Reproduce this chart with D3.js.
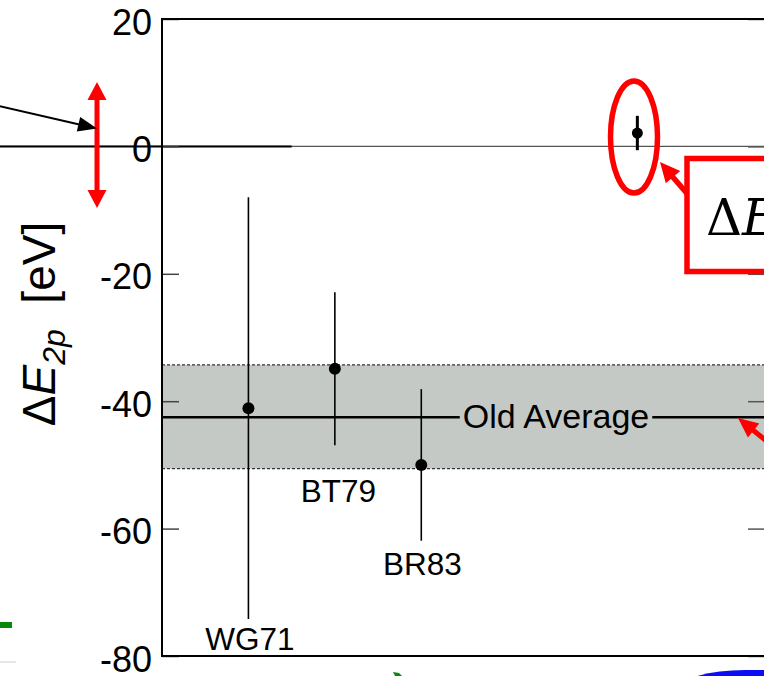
<!DOCTYPE html>
<html>
<head>
<meta charset="utf-8">
<script src="https://cdn.jsdelivr.net/npm/d3@7"></script>
<style>
  html, body { margin: 0; padding: 0; background: #fff; }
  svg { display: block; }
</style>
</head>
<body>
<svg id="chart" width="764" height="676"></svg>
<script>
// Earlier measurements of the 2p level shift, with their uncertainties
const labels    = ["WG71", "BT79", "BR83"];
const positions = [1, 2, 3];
const values    = [-41.1, -34.9, -50.0];
const errors    = [33.1, 12.0, 11.9];

// New measurement
const newPosition = [5.5];
const newValue    = [2.1];
const newError    = [2.7];

// Average of the earlier results and its band
const oldAverage = [-42.5];
const oldBand    = [-50.6, -34.3];

const yMajorTicks = [20, 0, -20, -40, -60, -80];
const yMinorTicks = d3.range(-80, 20.01, 5);

const svg = d3.select("#chart");

const x = d3.scaleLinear().domain([0, 7]).range([162, 767]);
const y = d3.scaleLinear().domain([-80, 20]).range([656, 19]);

const font = "'Liberation Sans', Arial, Helvetica, sans-serif";

// Band of the old average
svg.append("rect")
  .attr("x", x(0)).attr("width", x(7) - x(0))
  .attr("y", y(oldBand[1])).attr("height", y(oldBand[0]) - y(oldBand[1]))
  .attr("fill", "#c5c9c5");
oldBand.forEach(v => {
  svg.append("line")
    .attr("x1", x(0)).attr("x2", x(7))
    .attr("y1", y(v)).attr("y2", y(v))
    .attr("stroke", "#333").attr("stroke-width", 1.2)
    .attr("stroke-dasharray", "3,2");
});

// Zero line
svg.append("line")
  .attr("x1", 0).attr("x2", x(7)).attr("y1", y(0)).attr("y2", y(0))
  .attr("stroke", "#555").attr("stroke-width", 1.3);
svg.append("line")
  .attr("x1", 0).attr("x2", x(1.5)).attr("y1", y(0)).attr("y2", y(0))
  .attr("stroke", "#000").attr("stroke-width", 2);

// Old average line with its label
const avgX = 556;
const avgLabel = svg.append("text")
  .attr("x", avgX).attr("y", y(oldAverage[0]) + 11)
  .attr("text-anchor", "middle")
  .attr("font-family", font).attr("font-size", 34)
  .text("Old Average");
const halfLen = avgLabel.node().getComputedTextLength() / 2;
svg.append("line")
  .attr("x1", x(0)).attr("x2", avgX - halfLen - 3)
  .attr("y1", y(oldAverage[0])).attr("y2", y(oldAverage[0]))
  .attr("stroke", "#000").attr("stroke-width", 2.5);
svg.append("line")
  .attr("x1", avgX + halfLen + 3).attr("x2", x(7))
  .attr("y1", y(oldAverage[0])).attr("y2", y(oldAverage[0]))
  .attr("stroke", "#000").attr("stroke-width", 2.5);

// Axes: labelled major ticks and short minor ticks, all pointing inward
const gLeft = svg.append("g").attr("transform", `translate(${x(0)},0)`);
gLeft.call(d3.axisLeft(y).tickValues(yMinorTicks).tickSize(-9).tickFormat(""));
gLeft.call(d3.axisLeft(y).tickValues(yMajorTicks).tickSize(-17).tickPadding(10)
  .tickFormat(d => String(d)));
gLeft.selectAll(".domain").remove();
gLeft.selectAll(".tick line").attr("stroke", "#444").attr("stroke-width", 1.5);
gLeft.selectAll(".tick text")
  .attr("font-family", font).attr("font-size", 36).attr("fill", "#000")
  .attr("dy", "0.42em");

const gRight = svg.append("g").attr("transform", `translate(${x(7)},0)`);
gRight.call(d3.axisRight(y).tickValues(yMinorTicks).tickSize(-9).tickFormat(""));
gRight.call(d3.axisRight(y).tickValues(yMajorTicks).tickSize(-19).tickFormat(""));
gRight.selectAll(".domain").remove();
gRight.selectAll(".tick line").attr("stroke", "#555").attr("stroke-width", 1.5);

// Frame
svg.append("line").attr("x1", x(0)).attr("x2", x(0)).attr("y1", y(20)).attr("y2", y(-80))
  .attr("stroke", "#000").attr("stroke-width", 2);
svg.append("line").attr("x1", x(0) - 1).attr("x2", x(7)).attr("y1", y(20)).attr("y2", y(20))
  .attr("stroke", "#000").attr("stroke-width", 2);
svg.append("line").attr("x1", x(0) - 1).attr("x2", x(7)).attr("y1", y(-80)).attr("y2", y(-80))
  .attr("stroke", "#000").attr("stroke-width", 2);

// Earlier measurements
const pts = positions.map((p, i) => ({ p, v: values[i], e: errors[i], label: labels[i] }));
svg.selectAll(".ebar").data(pts).join("line")
  .attr("class", "ebar")
  .attr("x1", d => x(d.p)).attr("x2", d => x(d.p))
  .attr("y1", d => y(d.v + d.e)).attr("y2", d => y(d.v - d.e))
  .attr("stroke", "#000").attr("stroke-width", 1.6);
svg.selectAll(".dot").data(pts).join("circle")
  .attr("class", "dot")
  .attr("cx", d => x(d.p)).attr("cy", d => y(d.v)).attr("r", 6)
  .attr("fill", "#000");

// Point labels
const labelPos = { WG71: [250, 650], BT79: [338.5, 502], BR83: [422.5, 575] };
svg.selectAll(".plabel").data(pts).join("text")
  .attr("class", "plabel")
  .attr("x", d => labelPos[d.label][0]).attr("y", d => labelPos[d.label][1])
  .attr("text-anchor", "middle")
  .attr("font-family", font).attr("font-size", 31.5)
  .text(d => d.label);

// New measurement
svg.append("line")
  .attr("x1", x(newPosition[0])).attr("x2", x(newPosition[0]))
  .attr("y1", y(newValue[0] + newError[0])).attr("y2", y(newValue[0] - newError[0]))
  .attr("stroke", "#000").attr("stroke-width", 3);
svg.append("circle")
  .attr("cx", x(newPosition[0])).attr("cy", y(newValue[0])).attr("r", 5.5)
  .attr("fill", "#000");

// Y axis title
const title = svg.append("text")
  .attr("transform", "translate(55,324) rotate(-90)")
  .attr("text-anchor", "middle")
  .attr("font-family", font).attr("font-size", 46);
title.append("tspan").text("Δ");
title.append("tspan").attr("font-style", "italic").text("E");
title.append("tspan").attr("font-style", "italic").attr("font-size", 32).attr("dy", 10).text("2p");
title.append("tspan").attr("dy", -10).text("\u00a0\u00a0[eV]");

// Annotation helpers
function arrowHead(tipX, tipY, fromX, fromY, len, width, color) {
  const dx = tipX - fromX, dy = tipY - fromY;
  const l = Math.hypot(dx, dy), ux = dx / l, uy = dy / l;
  const bx = tipX - ux * len, by = tipY - uy * len;
  const px = -uy * width / 2, py = ux * width / 2;
  svg.append("polygon")
    .attr("points", `${tipX},${tipY} ${bx + px},${by + py} ${bx - px},${by - py}`)
    .attr("fill", color);
  return [bx + ux * 2, by + uy * 2];
}
function arrow(fromX, fromY, tipX, tipY, sw, len, width, color) {
  const [bx, by] = arrowHead(tipX, tipY, fromX, fromY, len, width, color);
  svg.append("line").attr("x1", fromX).attr("y1", fromY).attr("x2", bx).attr("y2", by)
    .attr("stroke", color).attr("stroke-width", sw);
}

// Red double arrow and black pointer at the left
const red = "#ff0000";
svg.append("line").attr("x1", 97).attr("x2", 97).attr("y1", 96).attr("y2", 195)
  .attr("stroke", red).attr("stroke-width", 5);
arrowHead(97, 82, 97, 120, 18, 19, red);
arrowHead(97, 208, 97, 170, 18, 19, red);
arrow(-5, 105, 97, 128.5, 2, 19, 15, "#000");

// Ellipse round the new point, callout box and its arrow
svg.append("ellipse").attr("cx", 634).attr("cy", 137).attr("rx", 23.5).attr("ry", 56)
  .attr("fill", "none").attr("stroke", red).attr("stroke-width", 5.5);
arrow(690, 197, 660, 162, 5.5, 20, 19, red);
svg.append("rect").attr("x", 687).attr("y", 158.5).attr("width", 130).attr("height", 113)
  .attr("fill", "#fff").attr("stroke", red).attr("stroke-width", 5.5);
const boxText = svg.append("text").attr("x", 706).attr("y", 235)
  .attr("font-family", "'DejaVu Serif', 'Liberation Serif', serif").attr("font-size", 50);
boxText.append("tspan").text("Δ");
boxText.append("tspan").attr("font-style", "italic").text("E");

// Red arrow pointing at the old average
arrow(805, 472, 738, 418, 5, 20, 18, red);

// Pieces of the neighbouring panels
svg.append("rect").attr("x", 0).attr("y", 622).attr("width", 12).attr("height", 6)
  .attr("fill", "#0a880a");
svg.append("polygon").attr("points", "393,672 399,673 402,676 395,676").attr("fill", "#0a880a");
svg.append("rect").attr("x", 0).attr("y", 661).attr("width", 16).attr("height", 2)
  .attr("fill", "#e6e6e6");
svg.append("ellipse").attr("cx", 745).attr("cy", 690).attr("rx", 66).attr("ry", 20)
  .attr("fill", "#0c0cf5");
svg.append("rect").attr("x", 745).attr("y", 670).attr("width", 20).attr("height", 8)
  .attr("fill", "#0c0cf5");
</script>
</body>
</html>
